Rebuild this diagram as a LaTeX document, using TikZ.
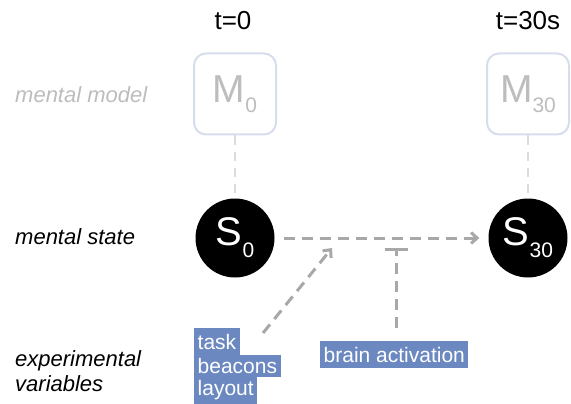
\documentclass[tikz,border=0pt]{standalone}
\usepackage{fontspec}
\setmainfont{Liberation Sans}
\usetikzlibrary{arrows.meta}
\usetikzlibrary{positioning}
\definecolor{boxblue}{HTML}{D6DEEE}
\definecolor{modelgray}{HTML}{BDBDBD}
\definecolor{linkgray}{HTML}{A8A8A8}
\definecolor{stemgray}{HTML}{DCDCDC}
\definecolor{varblue}{HTML}{6B88C0}
\newcommand{\lowsub}[2]{\raisebox{-#1}{\fontsize{21}{21}\selectfont #2}}

\begin{document}
\begin{tikzpicture}[x=1pt, y=-1pt,
    rowlabel/.style = {anchor=west, inner sep=0pt, font=\fontsize{22}{25}\selectfont\itshape},
    timelabel/.style = {font=\fontsize{26}{28}\selectfont},
    model/.style = {draw=boxblue, line width=2pt, rounded corners=12pt,
      minimum width=82pt, minimum height=81pt, text=modelgray,
      font=\fontsize{39}{40}\selectfont},
    state/.style = {circle, fill=black, minimum size=79pt, inner sep=0pt,
      text=white, font=\fontsize{40}{40}\selectfont},
    var/.style = {fill=varblue, text=white, anchor=west, inner sep=0pt,
      minimum height=27pt, font=\fontsize{21}{23}\selectfont},
    link/.style = {linkgray, line width=3pt, dash pattern=on 11pt off 7pt},
    stem/.style = {stemgray, line width=2pt, dash pattern=on 9pt off 7pt}
  ]
  \useasboundingbox[fill=white] (0,0) rectangle (571,404);

  % time points
  \node[timelabel] (t0) at (233,21) {t=0};
  \node[timelabel] (t30) at (528,21) {t=30s};

  % mental model boxes
  \node[model] (M0) at (235,94) {M\lowsub{10pt}{0}};
  \node[model] (M30) at (528,94) {M\lowsub{10pt}{30}};

  % mental states
  \node[state] (S0) at (235,238) {S\lowsub{12pt}{0}};
  \node[state] (S30) at (528,238) {S\lowsub{12pt}{30}};

  \draw[stem] (M0) -- (S0);
  \draw[stem] (M30) -- (S30);

  % row labels
  \node[rowlabel, text=modelgray] (lmodel) at (15,95) {mental model};
  \node[rowlabel] (lstate) at (15,237) {mental state};
  \node[rowlabel, align=left] (lvars) at (15,371) {experimental\\variables};

  % experimental variables
  \node[var] (task) at (194,341.5) {\,task\,};
  \node[var, minimum height=22pt] (beacons) at (194,366) {\,beacons\,};
  \node[var] (layout) at (194,390.5) {\,layout\,};
  \node[var] (brain) at (320,354.5) {\,brain activation\,};

  % transition
  \coordinate (push) at (332,248);
  \coordinate (block) at (396,248);
  \draw[link, shorten <=9pt, shorten >=9pt, -{Straight Barb[length=6pt, width=11pt]}] (S0) -- (S30);
  \draw[link, -{Straight Barb[length=6pt, width=11pt]}] (263,333) -- (push);
  \draw[link, -{Bar[width=23pt, line width=3pt]}] (brain.north -| block) ++(0,-13) -- (block);
\end{tikzpicture}
\end{document}
